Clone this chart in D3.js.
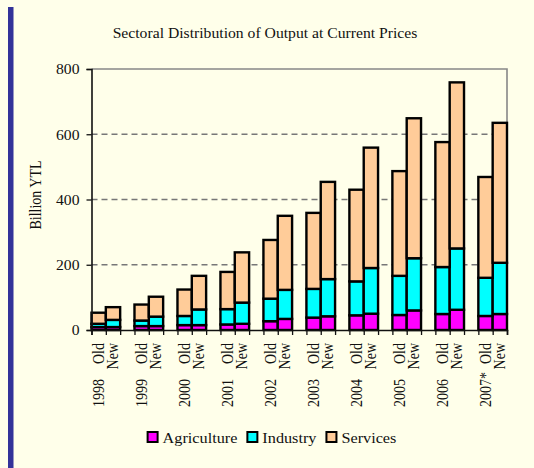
<!DOCTYPE html>
<html>
<head>
<meta charset="utf-8">
<script src="https://cdn.jsdelivr.net/npm/d3@7"></script>
<style>
  html, body { margin: 0; padding: 0; background: #ffffea; }
  svg { display: block; }
  svg text { font-family: "Liberation Serif", "Times New Roman", serif !important; fill: #111; }
</style>
</head>
<body>
<svg id="chart" width="534" height="468"></svg>
<script>
// years on the axis, two bars (Old / New series) per year
var years = ["1998", "1999", "2000", "2001", "2002", "2003", "2004", "2005", "2006", "2007*"];
var versions = ["Old", "New"];
var sectors = ["Agriculture", "Industry", "Services"];
var sectorColors = ["#ff00ff", "#00ffff", "#ffcc99"];

// billion YTL, Old then New for each year
var agriculture = [9, 9, 12, 12, 15, 15, 17, 19, 27, 34, 38, 42, 45, 50, 46, 60, 49, 62, 43, 49];
var industry = [10, 22, 17, 29, 28, 48, 47, 65, 69, 89, 88, 114, 104, 140, 120, 160, 144, 188, 117, 157];
var services = [34, 39, 49, 61, 81, 103, 114, 154, 180, 227, 233, 298, 281, 369, 321, 429, 383, 509, 309, 429];

var yTicks = [0, 200, 400, 600, 800];

var sx = 1.12; // the original picture was stretched a little sideways
var serif = '"Liberation Serif", "Times New Roman", serif';

(function (d3) {
	var svg = d3.select("#chart");
	var margin = {left: 91.5, right: 27, top: 69, bottom: 138};
	var width = 534 - margin.left - margin.right;
	var height = 468 - margin.top - margin.bottom;

	/*left blue strip*/
	svg.append("rect").attr("x", 8).attr("y", 7).attr("width", 5.5).attr("height", 468).attr("fill", "#333399");

	/*slots: Old, New, gap, Old, New, gap ... */
	var slots = [];
	years.forEach(function (yr, i) {
		versions.forEach(function (v) { slots.push(yr + "|" + v); });
		if (i < years.length - 1) slots.push(yr + "|gap");
	});

	var x = d3.scaleBand().domain(slots).range([0, width]).paddingInner(0).paddingOuter(0);
	var xIdx = d3.scaleLinear().domain([0, slots.length]).range([0, width]);
	var y = d3.scaleLinear().domain([0, 800]).range([height, 0]);

	var g = svg.append("g").attr("transform", "translate(" + margin.left + "," + margin.top + ")");

	/*gridlines*/
	g.selectAll("line.grid").data(yTicks.filter(function (d) { return d > 0 && d < 800; }))
		.enter().append("line").attr("class", "grid")
		.attr("x1", 0).attr("x2", width)
		.attr("y1", function (d) { return y(d); }).attr("y2", function (d) { return y(d); })
		.attr("stroke", "#777").attr("stroke-width", 1.3).attr("stroke-dasharray", "6,4");

	/*top and right frame*/
	g.append("path").attr("d", "M0," + y(800) + "H" + width + "V" + height)
		.attr("fill", "none").attr("stroke", "#888").attr("stroke-width", 1.6);

	/*stacked data*/
	var rows = [];
	years.forEach(function (yr, i) {
		versions.forEach(function (v, j) {
			var k = i * 2 + j;
			rows.push({slot: yr + "|" + v, Agriculture: agriculture[k], Industry: industry[k], Services: services[k]});
		});
	});
	var stack = d3.stack().keys(sectors)(rows);

	var layer = g.selectAll("g.layer").data(stack).enter().append("g")
		.attr("class", "layer").attr("fill", function (d, i) { return sectorColors[i]; });
	layer.selectAll("rect").data(function (d) { return d; }).enter().append("rect")
		.attr("x", function (d) { return x(d.data.slot); })
		.attr("width", x.bandwidth())
		.attr("y", function (d) { return y(d[1]); })
		.attr("height", function (d) { return y(d[0]) - y(d[1]); })
		.attr("stroke", "#000").attr("stroke-width", 2.4);

	/*axes*/
	var yAxis = d3.axisLeft(y).tickValues(yTicks).tickSize(5).tickPadding(7);
	var ya = g.append("g").call(yAxis).attr("font-family", serif);
	ya.select(".domain").attr("stroke", "#111").attr("stroke-width", 1.6);
	ya.selectAll(".tick line").attr("stroke", "#111").attr("stroke-width", 1.3);
	ya.selectAll(".tick text").attr("font-size", 14).style("font-family", serif)
		.attr("transform", "scale(" + sx + ",1)").attr("x", -12 / sx).attr("dy", "0.34em");

	var xAxis = d3.axisBottom(xIdx).tickValues(d3.range(0, slots.length + 1)).tickSize(5).tickFormat("");
	var xa = g.append("g").attr("transform", "translate(0," + height + ")").call(xAxis);
	xa.select(".domain").attr("stroke", "#111").attr("stroke-width", 1.6);
	xa.selectAll(".tick line").attr("stroke", "#111").attr("stroke-width", 1.3);

	/*Old / New labels*/
	g.selectAll("text.ver").data(rows).enter().append("text").attr("class", "ver")
		.attr("transform", function (d) {
			return "translate(" + (x(d.slot) + x.bandwidth() / 2) + "," + (height + 13) + ") scale(" + sx + ",1) rotate(-90)";
		})
		.attr("text-anchor", "end").attr("dy", "0.35em").attr("font-size", 14).style("font-family", serif)
		.text(function (d) { return d.slot.split("|")[1]; });

	/*year labels*/
	g.selectAll("text.yr").data(years).enter().append("text").attr("class", "yr")
		.attr("transform", function (d) {
			return "translate(" + (x(d + "|Old") + x.bandwidth() / 2) + "," + (height + 77) + ") scale(" + sx + ",1) rotate(-90)";
		})
		.attr("text-anchor", "start").attr("dy", "0.35em").attr("font-size", 14).style("font-family", serif)
		.text(function (d) { return d; });

	/*titles*/
	svg.append("text").attr("transform", "translate(265,38) scale(" + sx + ",1)")
		.attr("text-anchor", "middle").attr("font-size", 14).style("font-family", serif)
		.text("Sectoral Distribution of Output at Current Prices");
	svg.append("text").attr("transform", "translate(36,195) scale(" + sx + ",1) rotate(-90)")
		.attr("text-anchor", "middle").attr("dy", "0.35em").attr("font-size", 14).style("font-family", serif)
		.text("Billion YTL");

	/*legend*/
	var legend = svg.append("g").attr("transform", "translate(0,443)");
	var items = legend.selectAll("g").data(sectors).enter().append("g");
	items.append("rect").attr("y", -11).attr("width", 10).attr("height", 10)
		.attr("fill", function (d, i) { return sectorColors[i]; })
		.attr("stroke", "#000").attr("stroke-width", 2);
	var labels = items.append("text").attr("font-size", 14.5).style("font-family", serif)
		.attr("transform", "translate(15,0) scale(" + sx + ",1)")
		.text(function (d) { return d; });
	var pos = 0, offs = [];
	labels.each(function () {
		offs.push(pos);
		pos += 15 + this.getComputedTextLength() * sx + 10;
	});
	var total = pos - 10;
	var start = 272 - total / 2;
	items.attr("transform", function (d, i) { return "translate(" + (start + offs[i]) + ",0)"; });
})(d3);
</script>
</body>
</html>
